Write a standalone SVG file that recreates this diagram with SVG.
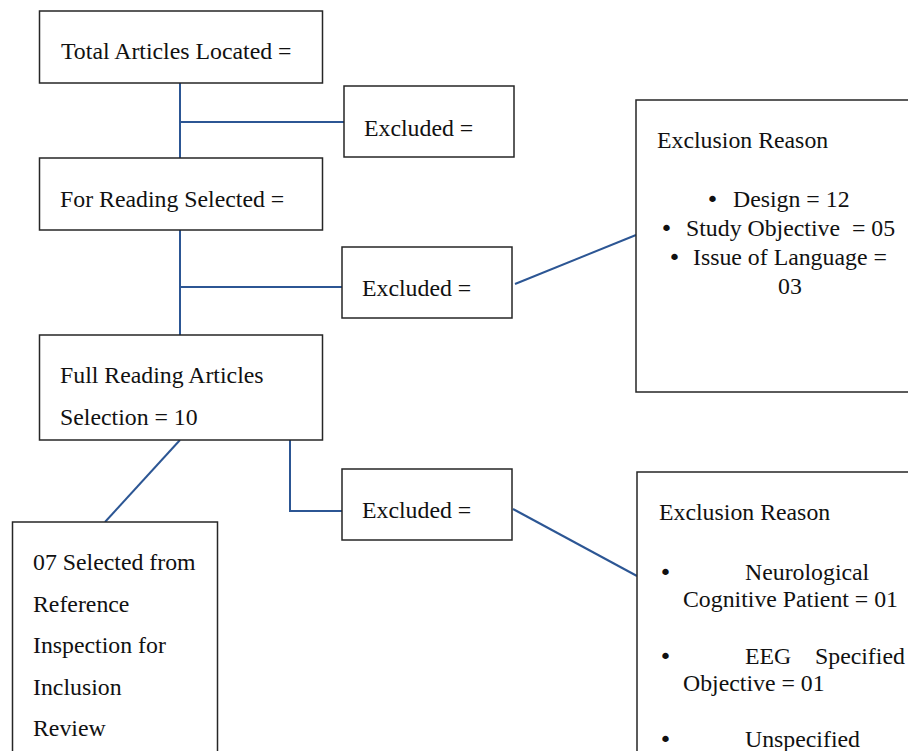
<svg xmlns="http://www.w3.org/2000/svg" width="908" height="751" viewBox="0 0 908 751">
<style>
.box{fill:#fff;stroke:#262626;stroke-width:1.5}
.t{font-family:"Liberation Serif","Times New Roman",serif;font-size:23.8px;fill:#111;white-space:pre}
.b{font-family:"DejaVu Sans",sans-serif;font-size:22px;fill:#111}
.c{stroke:#2c5694;stroke-width:2;fill:none}
</style>
<rect width="908" height="751" fill="#fff"/>
<g id="connectors">
<path class="c" d="M180 82 V158 M180 122 H344"/>
<path class="c" d="M180 230 V335 M180 287 H342"/>
<path class="c" d="M180 440 L105 522"/>
<path class="c" d="M290 440 V511 H342"/>
<path class="c" d="M515 284 L636 235"/>
<path class="c" d="M513 509 L637 576"/>
</g>
<g id="total">
<rect class="box" x="39.5" y="11" width="283" height="72"/>
<text class="t" x="61" y="59">Total Articles Located =</text>
</g>
<g id="excluded1">
<rect class="box" x="344" y="86" width="170" height="71"/>
<text class="t" x="364" y="136">Excluded =</text>
</g>
<g id="reading">
<rect class="box" x="39.5" y="158" width="283" height="72"/>
<text class="t" x="60" y="207">For Reading Selected =</text>
</g>
<g id="excluded2">
<rect class="box" x="342" y="247" width="170" height="71"/>
<text class="t" x="362" y="296">Excluded =</text>
</g>
<g id="full">
<rect class="box" x="39.5" y="335" width="283" height="105"/>
<text class="t" x="60" y="383">Full Reading Articles</text>
<text class="t" x="60" y="425">Selection = 10</text>
</g>
<g id="excluded3">
<rect class="box" x="342" y="469" width="170" height="71"/>
<text class="t" x="362" y="518">Excluded =</text>
</g>
<g id="selected07">
<rect class="box" x="12.5" y="522" width="205" height="240"/>
<text class="t" x="33" y="570">07 Selected from</text>
<text class="t" x="33" y="612">Reference</text>
<text class="t" x="33" y="653">Inspection for</text>
<text class="t" x="33" y="695">Inclusion</text>
<text class="t" x="33" y="736">Review</text>
</g>
<g id="reason1">
<rect class="box" x="636" y="100" width="290" height="292"/>
<text class="t" x="657" y="148">Exclusion Reason</text>
<text class="b" x="706" y="207">•</text>
<text class="t" x="733" y="207">Design = 12</text>
<text class="b" x="660" y="236">•</text>
<text class="t" x="686" y="236">Study Objective  = 05</text>
<text class="b" x="668" y="265">•</text>
<text class="t" x="693" y="265">Issue of Language =</text>
<text class="t" x="790" y="294" text-anchor="middle">03</text>
</g>
<g id="reason2">
<rect class="box" x="637" y="472" width="290" height="300"/>
<text class="t" x="659" y="520">Exclusion Reason</text>
<text class="b" x="659" y="580">•</text>
<text class="t" x="745" y="580">Neurological</text>
<text class="t" x="683" y="607">Cognitive Patient = 01</text>
<text class="b" x="659" y="664">•</text>
<text class="t" x="745" y="664">EEG</text>
<text class="t" x="815" y="664">Specified</text>
<text class="t" x="683" y="691">Objective = 01</text>
<text class="b" x="659" y="747">•</text>
<text class="t" x="745" y="747">Unspecified</text>
</g>
</svg>
